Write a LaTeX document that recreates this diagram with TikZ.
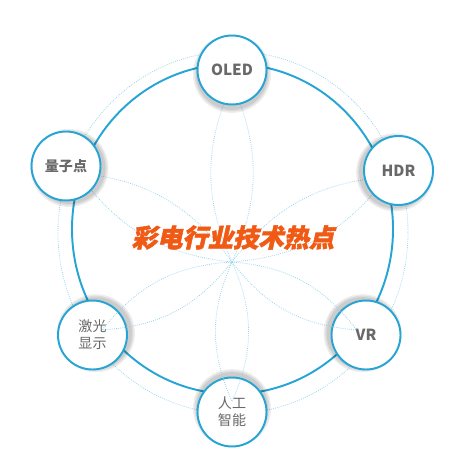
\documentclass[tikz,border=0pt]{standalone}
\usepackage{fontspec}
\setmainfont{Noto Sans CJK SC}
\newfontfamily\titlefont[FakeSlant=0.22,FakeBold=2]{Noto Sans CJK SC}
\usepackage{tikz}
\usetikzlibrary{calc,backgrounds}
\definecolor{ringblue}{RGB}{38,164,212}
\definecolor{dotblue}{RGB}{150,210,236}
\definecolor{lblgray}{RGB}{105,105,105}
\definecolor{hotorange}{RGB}{240,90,20}

\begin{document}
\begin{tikzpicture}[x=0.02cm, y=-0.02cm]
\tikzstyle{hot}=[circle, draw=ringblue, line width=1.1pt, fill=white,
                 minimum size=1.38cm, inner sep=0pt, text=lblgray, font=\bfseries\fontsize{8.7}{10}\selectfont]
\tikzstyle{hotcn}=[hot, align=center, font=\fontsize{8}{9.6}\selectfont]
\tikzstyle{petal}=[dotblue, line width=0.45pt, dash pattern=on 0.45pt off 0.75pt]
\useasboundingbox (0,0) rectangle (475,472);
%\draw[red] (0,0) grid[step=50] (475,472);
\node[hot] (O) at (232,70) {OLED};
\node[hot] (H) at (398.5,170.5) {HDR};
\node[hot] (V) at (366,335) {VR};
\node[hotcn] (A) at (232,412) {人工\\智能};
\node[hotcn] (L) at (92.5,335) {激光\\显示};
\node[hot, font=\bfseries\fontsize{8}{10}\selectfont] (Q) at (66,166) {量子点};
\coordinate (P) at (232,262);
\node[text=hotorange, font=\titlefont\bfseries\fontsize{14.4}{16}\selectfont] (T) at (233,237.5) {彩电行业技术热点};
\begin{scope}[on background layer]
\draw[petal] (233,232.5) ellipse [x radius=175, y radius=181];
\draw[ringblue, line width=1.1pt] (232.5,229) ellipse [x radius=160.5, y radius=165];
\foreach \i in {O,H,Q}{\draw[petal] (P) to[bend left=24] ($(P)!0.93!(\i)$) to[bend left=24] (P);}
\foreach \i in {O,H,V,A,L,Q}{\foreach \r in {39,37.5,36}{\fill[black, opacity=0.07] ($(\i)!2.2pt!(P)$) circle (\r);}}
\end{scope}
\foreach \i in {V,A,L}{\draw[petal] (P) to[bend left=24] ($(P)!0.93!(\i)$) to[bend left=24] (P);}
\end{tikzpicture}
\end{document}
